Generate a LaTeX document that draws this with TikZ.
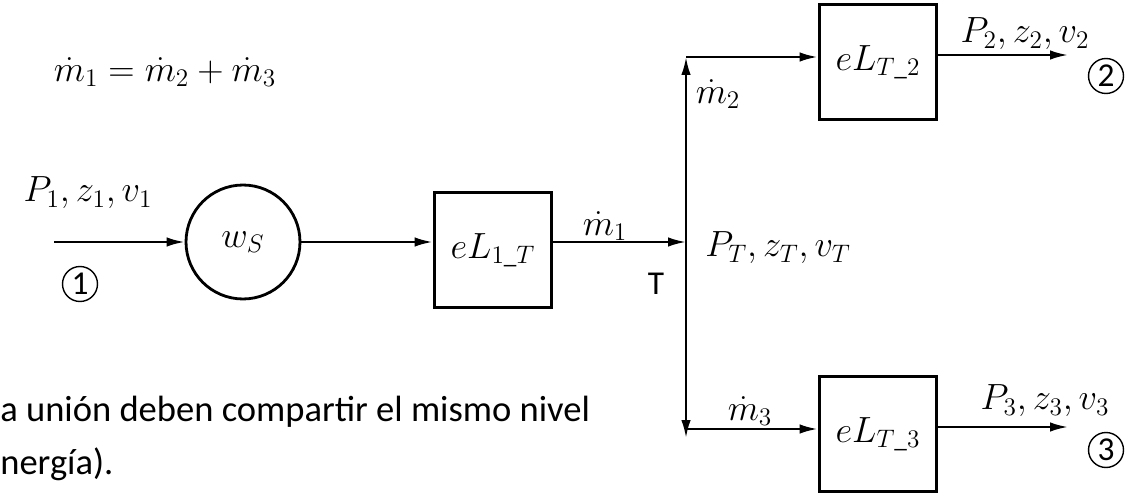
\documentclass[tikz,border=0pt]{standalone}
\usepackage{amsmath}
\usepackage[no-math]{fontspec}
\setmainfont{Carlito}
\usetikzlibrary{arrows.meta,positioning}

\begin{document}
\begin{tikzpicture}[x=0.02cm,y=-0.02cm,
 blk/.style={draw,line width=2.2pt,minimum width=2.34cm,minimum height=2.3cm,inner sep=0pt,font=\fontsize{20.5}{24}\selectfont},
 pump/.style={draw,circle,line width=1.6pt,minimum size=2.28cm,inner sep=0pt,font=\fontsize{20.5}{24}\selectfont},
 num/.style={draw,circle,line width=0.8pt,minimum size=0.7cm,inner sep=0pt,font=\fontsize{19}{22}\selectfont},
 lbl/.style={inner sep=0pt,font=\fontsize{20.5}{24}\selectfont},
 txt/.style={inner sep=0pt,anchor=west,font=\fontsize{20.8}{24}\selectfont},
 flow/.style={line width=1.3pt,-{Latex[length=3.6mm,width=1.9mm]}}]
\useasboundingbox (0,0) rectangle (1132,493);
\node[pump] (ws) at (243,242) {$w_S$};
\node[blk] (b1) at (493,250) {$eL_{1\_T}$};
\node[blk] (b2) at (878,62) {$eL_{T\_2}$};
\node[blk] (b3) at (878,434) {$eL_{T\_3}$};
\coordinate (in1) at (54,242);
\coordinate (J) at (686,242);
\coordinate (Jt) at (686,57);
\coordinate (Jb) at (686,438);
\coordinate (Jh) at (686,429);
\coordinate (o2) at (1068,55);
\coordinate (o3) at (1068,427);
\draw[flow] (in1) -- (ws);
\draw[flow] (ws) -- (ws -| b1.west);
\draw[flow] (ws -| b1.east) -- (J);
\foreach \e in {Jt,Jb} \draw[flow] (J) -- (\e);
\draw[flow] (Jt) -- (Jt -| b2.west);
\draw[flow] (Jh) -- (Jh -| b3.west);
\draw[flow] (o2 -| b2.east) -- (o2);
\draw[flow] (o3 -| b3.east) -- (o3);
\node[lbl] (eq) at (165,72) {$\dot m_1=\dot m_2+\dot m_3$};
\node[lbl] (p1) at (88,193) {$P_1, z_1, v_1$};
\node[num] (n1) at (80,284) {1};
\node[lbl] (m1) at (605,226) {$\dot m_1$};
\node[inner sep=0pt,font=\fontsize{19}{22}\selectfont] (t) at (656,284) {T};
\node[lbl,anchor=west] (pT) at (705,248) {$P_T, z_T, v_T$};
\node[lbl] (m2) at (718,94) {$\dot m_2$};
\node[lbl] (m3) at (750,411) {$\dot m_3$};
\node[lbl] (p2) at (1025,34) {$P_2, z_2, v_2$};
\node[lbl] (p3) at (1045,401) {$P_3, z_3, v_3$};
\node[num] (n2) at (1106,76) {2};
\node[num] (n3) at (1106,450) {3};
\node[txt] (note1) at (0,412) {a unión deben compartir el mismo nivel};
\node[txt] (note2) at (0,464) {nergía).};
\end{tikzpicture}
\end{document}
